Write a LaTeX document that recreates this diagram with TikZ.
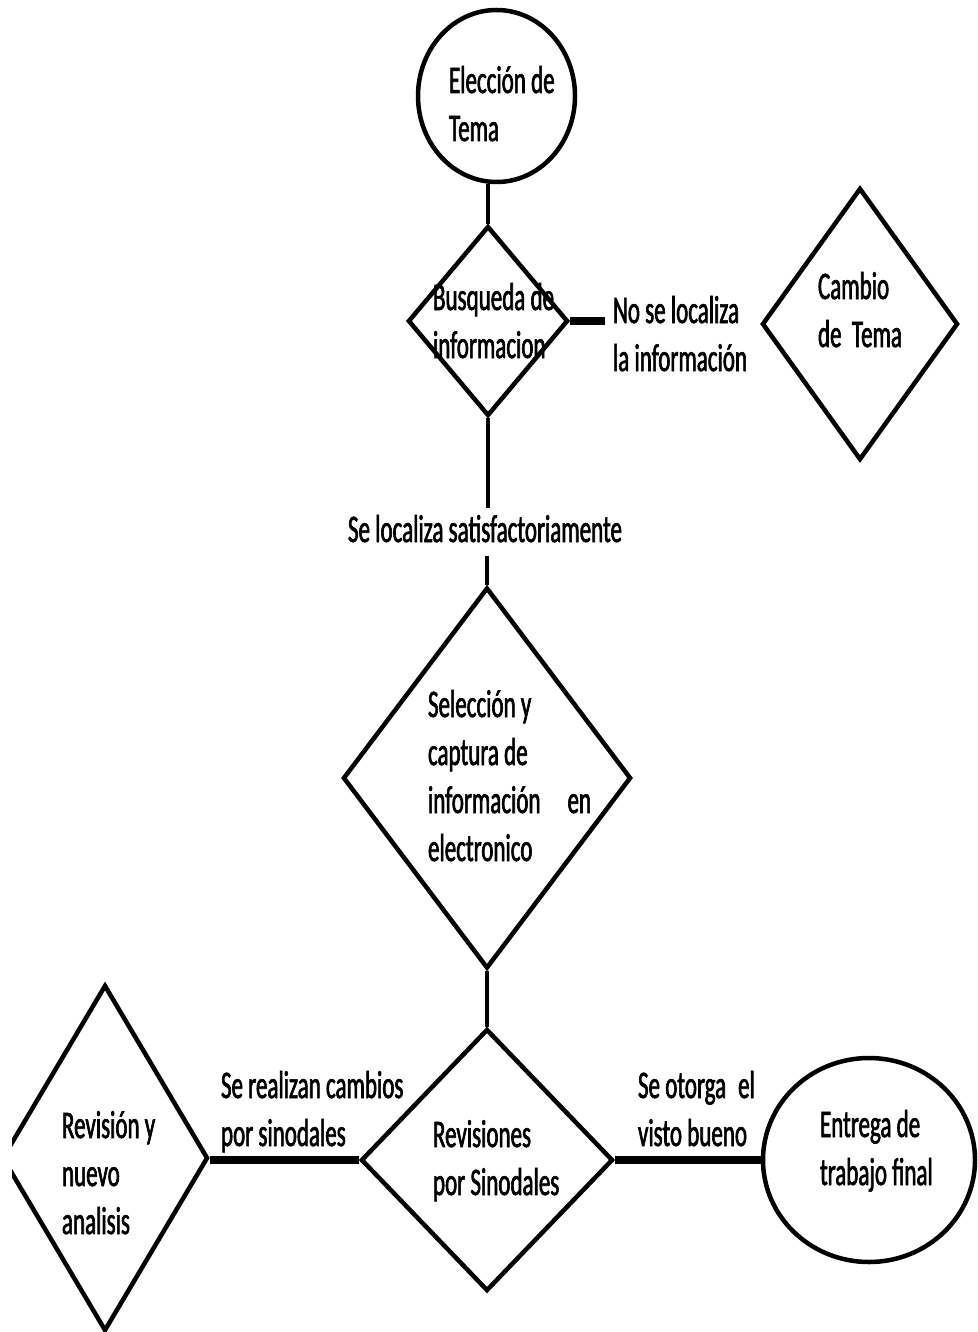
\documentclass[tikz,border=0pt]{standalone}
\usepackage{fontspec}
\setmainfont{Carlito}[FakeStretch=0.59, FakeBold=1.6]
\usetikzlibrary{shapes.geometric,calc}
\tikzset{
  shp/.style={draw=black, line width=4.5pt, fill=none, inner sep=0pt},
  dia/.style={shp, diamond},
  ell/.style={shp, ellipse},
  txt/.style={anchor=base west, inner sep=0pt, outer sep=0pt, text=black,
              font=\fontsize{39}{48}\selectfont},
  vcon/.style={line width=4pt},
  hcon/.style={line width=7.5pt},
}
\newcommand{\tl}[1]{\begin{tabular}[t]{@{}l@{}}#1\end{tabular}}
\begin{document}
\begin{tikzpicture}[x=1pt,y=-1pt]
\fill[white] (0,0) rectangle (977,1332);
\useasboundingbox (0,0) rectangle (977,1332);

% shapes
\node[ell, minimum width=157pt, minimum height=172pt] (tema) at (496.5,96) {};
\node[dia, minimum width=160pt, minimum height=190pt] (busq) at (488,321) {};
\node[dia, minimum width=196pt, minimum height=272pt] (cambio) at (860,324) {};
\node[dia, minimum width=288pt, minimum height=381pt] (sel) at (487,778) {};
\node[dia, minimum width=252pt, minimum height=262pt] (rev) at (487,1160) {};
\begin{scope}
  \clip (12,0) rectangle (977,1332);
  \node[dia, minimum width=206pt, minimum height=346pt] (nuevo) at (105,1158) {};
\end{scope}
\node[ell, minimum width=212pt, minimum height=204pt] (entrega) at (869,1160) {};

% texts
\node[txt] (tTema) at (449,93) {\tl{Elección de\\Tema}};
\node[txt] (tBusq) at (433,310) {\tl{Busqueda de\\informacion}};
\node[txt] (tNo) at (613,323) {\tl{No se localiza\\la información}};
\node[txt] (tCambio) at (818,299) {\tl{Cambio\\de~~Tema}};
\node[txt] (loc) at (348,542) {\tl{Se localiza satisfactoriamente}};
\node[txt] (tSel) at (428,717) {\tl{Selección y\\captura de\\información\hspace{27pt}en\\electronico}};
\node[txt] (tRev) at (433,1147) {\tl{Revisiones\\por Sinodales}};
\node[txt] (tCamb) at (221,1098) {\tl{Se realizan cambios\\por sinodales}};
\node[txt] (tNuevo) at (62,1138) {\tl{Revisión y\\nuevo\\analisis}};
\node[txt] (tOtorga) at (638,1098) {\tl{Se otorga\hspace{12pt}el\\visto bueno}};
\node[txt] (tEntrega) at (820,1137) {\tl{Entrega de\\trabajo final}};

% connectors
\coordinate (noend) at (605,321);
\draw[vcon] (busq.north |- tema.south) -- (busq.north);
\draw[hcon] (busq.east) -- (noend);
\draw[vcon] (busq.south) -- (busq.south |- loc.north);
\draw[vcon] (sel.north |- loc.south) -- (sel.north);
\draw[vcon] (sel.south) -- (rev.north);
\draw[hcon] (rev.west) -- (rev.west -| nuevo.east);
\draw[hcon] (rev.east) -- (entrega.west);
\end{tikzpicture}
\end{document}
